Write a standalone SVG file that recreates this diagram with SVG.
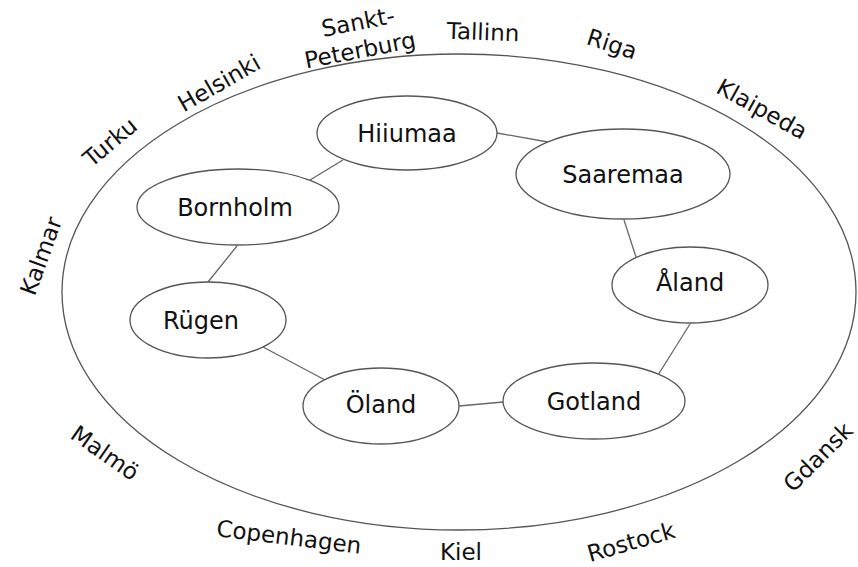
<svg xmlns="http://www.w3.org/2000/svg" width="858" height="567" viewBox="0 0 858 567">
<style>
.e{fill:#fff;stroke:#555;stroke-width:1.3}
.o{fill:none;stroke:#555;stroke-width:1.3}
.c{stroke:#666;stroke-width:1.3;fill:none}
text{font-family:"DejaVu Sans",sans-serif;fill:#111;text-anchor:middle;dominant-baseline:central}
.n{font-size:24px}
.l{font-size:23px}
</style>
<rect width="858" height="567" fill="#fff"/>
<g id="ring"><ellipse class="o" cx="459" cy="292" rx="397" ry="238"/></g>
<g id="connectors">
<line class="c" x1="343" y1="160" x2="310" y2="180"/>
<line class="c" x1="497" y1="133" x2="548" y2="142"/>
<line class="c" x1="624" y1="220" x2="636" y2="257"/>
<line class="c" x1="690" y1="324" x2="658" y2="375"/>
<line class="c" x1="503" y1="402" x2="459" y2="406"/>
<line class="c" x1="263" y1="347" x2="325" y2="380"/>
<line class="c" x1="237" y1="246" x2="208" y2="282"/>
</g>
<g id="hiiumaa"><ellipse class="e" cx="407" cy="133" rx="90" ry="37"/><text class="n" x="407" y="134">Hiiumaa</text></g>
<g id="saaremaa"><ellipse class="e" cx="623" cy="174" rx="107" ry="45"/><text class="n" x="623" y="175">Saaremaa</text></g>
<g id="aland"><ellipse class="e" cx="690" cy="285" rx="78" ry="38"/><text class="n" x="690" y="283">Åland</text></g>
<g id="gotland"><ellipse class="e" cx="594" cy="401" rx="91" ry="38"/><text class="n" x="594" y="402">Gotland</text></g>
<g id="oland"><ellipse class="e" cx="381" cy="406" rx="78" ry="38"/><text class="n" x="381" y="405">Öland</text></g>
<g id="rugen"><ellipse class="e" cx="208" cy="320" rx="78" ry="38"/><text class="n" x="201" y="321">Rügen</text></g>
<g id="bornholm"><ellipse class="e" cx="238" cy="207" rx="101" ry="38"/><text class="n" x="235" y="208">Bornholm</text></g>
<g id="labels">
<text class="l" transform="translate(110,142) rotate(-40)">Turku</text>
<text class="l" transform="translate(219,83) rotate(-30)">Helsinki</text>
<text class="l" transform="translate(358,22) rotate(-11)">Sankt-</text>
<text class="l" transform="translate(360,50) rotate(-11)">Peterburg</text>
<text class="l" transform="translate(483,32) rotate(2)">Tallinn</text>
<text class="l" transform="translate(612,44) rotate(18)">Riga</text>
<text class="l" transform="translate(762,109) rotate(29)">Klaipeda</text>
<text class="l" transform="translate(41,256) rotate(-70)">Kalmar</text>
<text class="l" transform="translate(105,453) rotate(35)">Malmö</text>
<text class="l" transform="translate(289,537) rotate(7)">Copenhagen</text>
<text class="l" transform="translate(461,552)">Kiel</text>
<text class="l" transform="translate(631,542) rotate(-16)">Rostock</text>
<text class="l" transform="translate(818,457) rotate(-45)">Gdansk</text>
</g>
</svg>
